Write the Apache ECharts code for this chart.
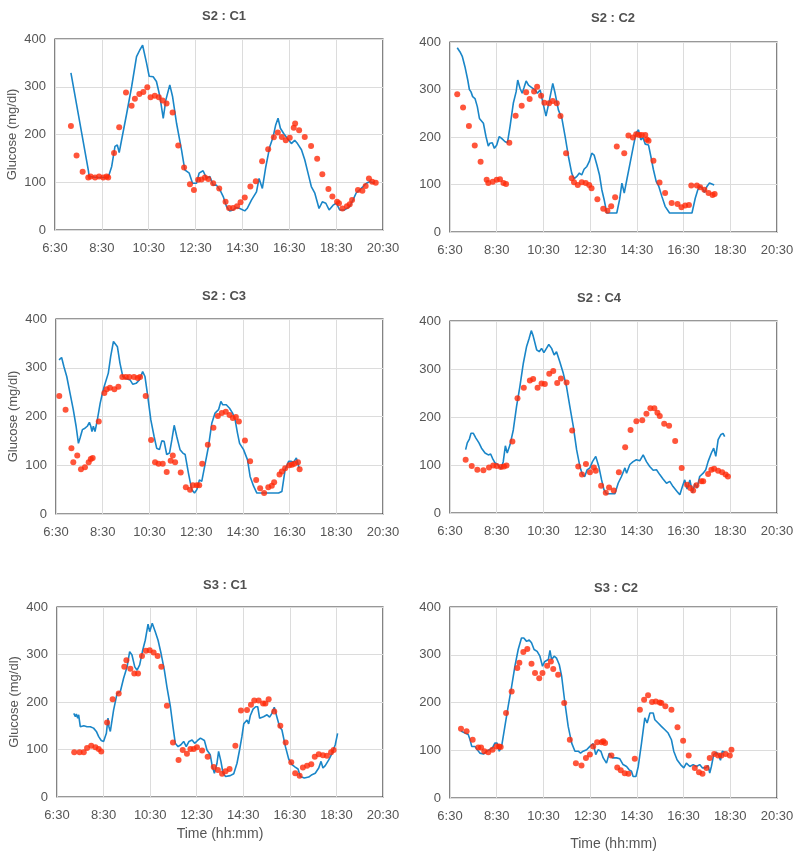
<!DOCTYPE html>
<html><head><meta charset="utf-8">
<script src="https://cdn.jsdelivr.net/npm/echarts@6/dist/echarts.min.js"></script>
<style>html,body{margin:0;padding:0;background:#fff}#c{width:800px;height:858px}</style>
</head><body><div id="c"></div>
<script>
// ---- data: [time in decimal hours, glucose mg/dl] ----
const panelTitles = ['S2 : C1', 'S2 : C2', 'S2 : C3', 'S2 : C4', 'S3 : C1', 'S3 : C2'];
const xTickLabels = ['6:30', '8:30', '10:30', '12:30', '14:30', '16:30', '18:30', '20:30'];
const yTicks = [0, 100, 200, 300, 400];

const s2c1Cgm = [[7.18,329],[7.92,126],[7.96,112],[8.3,110],[8.77,110],[8.92,133],[9.06,175],[9.16,178],[9.24,162],[9.34,188],[9.56,244],[9.77,300],[9.98,363],[10.12,377],[10.24,387],[10.29,384],[10.41,349],[10.52,322],[10.69,321],[10.83,311],[10.98,279],[11.12,234],[11.23,272],[11.40,304],[11.52,279],[11.69,223],[11.90,168],[12.04,126],[12.23,119],[12.37,98],[12.54,98],[12.65,119],[12.82,124],[12.97,108],[13.11,112],[13.25,94],[13.39,94],[13.54,84],[13.68,70],[13.82,49],[13.96,40],[14.10,42],[14.24,47],[14.39,45],[14.60,40],[14.70,45],[14.89,63],[15.10,80],[15.21,108],[15.35,87],[15.50,133],[15.67,175],[15.81,195],[15.92,220],[16.02,234],[16.12,213],[16.26,202],[16.41,192],[16.59,181],[16.73,188],[16.85,181],[17.02,168],[17.16,147],[17.30,119],[17.44,91],[17.59,77],[17.77,45],[17.91,59],[18.06,56],[18.20,42],[18.37,52],[18.51,56],[18.65,42],[18.86,42],[19.08,49],[19.22,63],[19.36,78],[19.50,84],[19.65,91],[19.79,98],[19.93,101],[20.14,98]];
const s2c1Ref = [[7.18,218],[7.42,156],[7.68,122],[7.92,110],[8.02,112],[8.21,110],[8.38,112],[8.56,110],[8.70,112],[8.77,110],[9.02,161],[9.24,215],[9.53,288],[9.77,260],[9.91,275],[10.10,285],[10.27,289],[10.44,299],[10.58,278],[10.76,281],[10.93,278],[11.09,271],[11.26,265],[11.52,246],[11.76,177],[12.01,131],[12.26,96],[12.43,84],[12.61,105],[12.75,106],[12.90,110],[13.04,107],[13.25,98],[13.51,87],[13.78,59],[13.93,46],[14.10,46],[14.27,50],[14.42,58],[14.60,68],[14.84,91],[15.07,102],[15.34,144],[15.60,169],[15.84,194],[16.01,204],[16.18,195],[16.35,188],[16.52,193],[16.69,214],[16.75,223],[16.92,209],[17.16,195],[17.43,176],[17.69,149],[17.91,117],[18.17,86],[18.34,70],[18.54,59],[18.62,56],[18.77,45],[18.96,50],[19.08,54],[19.18,63],[19.43,84],[19.62,82],[19.76,92],[19.90,108],[20.04,101],[20.19,99]];

const s2c2Cgm = [[6.81,388],[6.93,379],[7.03,369],[7.14,348],[7.26,320],[7.33,300],[7.40,295],[7.47,285],[7.57,281],[7.67,264],[7.76,239],[7.83,243],[7.93,229],[8.04,201],[8.14,181],[8.21,187],[8.31,188],[8.40,176],[8.50,183],[8.61,201],[8.71,197],[8.86,190],[8.96,188],[9.07,222],[9.21,271],[9.33,295],[9.40,320],[9.50,302],[9.59,292],[9.67,304],[9.76,318],[9.86,309],[10.00,304],[10.14,299],[10.24,292],[10.36,299],[10.47,274],[10.61,244],[10.76,278],[10.90,313],[11.00,292],[11.14,257],[11.29,239],[11.43,201],[11.57,159],[11.71,124],[11.81,112],[11.93,117],[12.04,124],[12.14,120],[12.24,132],[12.36,138],[12.46,148],[12.57,166],[12.67,162],[12.79,141],[12.90,120],[13.00,89],[13.10,68],[13.21,40],[13.64,40],[13.76,68],[13.86,103],[13.96,82],[14.07,110],[14.21,145],[14.36,183],[14.47,209],[14.57,215],[14.67,194],[14.76,199],[14.86,185],[15.00,183],[15.10,159],[15.21,131],[15.33,106],[15.44,96],[15.57,75],[15.71,54],[15.90,40],[16.86,40],[17.00,71],[17.11,89],[17.21,96],[17.31,92],[17.40,83],[17.50,96],[17.61,103],[17.71,101],[17.81,99]];
const s2c2Ref = [[6.81,290],[7.06,262],[7.31,223],[7.56,182],[7.81,148],[8.07,110],[8.14,103],[8.33,106],[8.50,110],[8.64,111],[8.79,103],[8.90,101],[9.04,188],[9.31,245],[9.57,266],[9.76,294],[9.91,280],[10.10,296],[10.23,306],[10.40,287],[10.54,272],[10.74,271],[10.90,276],[11.07,271],[11.23,244],[11.47,166],[11.71,113],[11.81,105],[11.97,99],[12.14,105],[12.31,103],[12.46,99],[12.56,92],[12.81,69],[13.06,49],[13.24,45],[13.40,54],[13.57,73],[13.64,180],[13.96,166],[14.14,203],[14.33,199],[14.47,206],[14.60,204],[14.71,204],[14.86,204],[14.93,195],[15.00,192],[15.21,150],[15.47,104],[15.71,82],[15.99,61],[16.24,59],[16.41,52],[16.57,56],[16.73,57],[16.83,98],[17.07,98],[17.21,94],[17.39,89],[17.57,82],[17.74,78],[17.83,80]];

const s2c3Cgm = [[6.63,316],[6.69,313],[6.74,321],[6.84,302],[6.96,282],[7.10,248],[7.24,214],[7.36,180],[7.46,145],[7.53,156],[7.63,173],[7.74,176],[7.84,180],[7.93,188],[7.99,180],[8.04,169],[8.10,180],[8.17,169],[8.27,193],[8.39,227],[8.47,244],[8.56,261],[8.64,265],[8.74,289],[8.84,323],[8.96,354],[9.04,358],[9.13,343],[9.24,309],[9.36,282],[9.50,278],[9.67,275],[9.79,266],[9.93,268],[10.07,275],[10.21,292],[10.31,282],[10.41,248],[10.56,193],[10.70,159],[10.81,135],[10.93,132],[11.03,150],[11.13,149],[11.24,122],[11.36,125],[11.46,152],[11.56,182],[11.67,159],[11.81,132],[11.93,125],[12.03,122],[12.17,84],[12.31,50],[12.43,43],[12.53,50],[12.64,70],[12.74,67],[12.89,104],[13.03,139],[13.17,186],[13.31,207],[13.46,214],[13.56,231],[13.64,224],[13.79,224],[13.93,217],[14.06,207],[14.17,193],[14.27,166],[14.36,145],[14.43,149],[14.53,132],[14.61,135],[14.70,111],[14.81,77],[14.96,57],[15.10,43],[16.03,43],[16.17,46],[16.31,91],[16.46,108],[16.56,108],[16.67,106],[16.79,115],[16.91,94]];
const s2c3Ref = [[6.64,242],[6.91,214],[7.16,135],[7.24,106],[7.41,120],[7.57,92],[7.74,96],[7.90,106],[7.99,113],[8.07,115],[8.33,190],[8.57,248],[8.67,256],[8.81,259],[9.00,256],[9.17,261],[9.34,281],[9.49,281],[9.64,281],[9.84,281],[10.00,279],[10.10,281],[10.34,242],[10.57,152],[10.74,106],[10.89,103],[11.07,103],[11.24,86],[11.41,109],[11.50,120],[11.60,106],[11.84,85],[12.06,55],[12.24,50],[12.36,59],[12.53,59],[12.63,59],[12.76,103],[13.00,142],[13.24,177],[13.43,201],[13.60,207],[13.77,210],[13.93,203],[14.07,197],[14.20,199],[14.33,190],[14.59,151],[14.81,108],[15.07,70],[15.24,53],[15.41,43],[15.59,55],[15.74,58],[15.84,65],[16.07,81],[16.17,87],[16.31,94],[16.49,100],[16.60,101],[16.70,103],[16.86,106],[16.93,92]];

const s2c4Cgm = [[7.17,132],[7.24,146],[7.33,154],[7.40,166],[7.50,166],[7.61,156],[7.74,146],[7.85,135],[8.00,125],[8.14,121],[8.24,123],[8.32,114],[8.42,105],[8.54,101],[8.68,92],[8.78,107],[8.87,140],[8.95,125],[9.07,142],[9.21,173],[9.35,222],[9.49,263],[9.64,312],[9.78,347],[9.89,364],[9.98,380],[10.06,369],[10.21,340],[10.32,336],[10.42,343],[10.52,334],[10.63,343],[10.73,351],[10.85,343],[10.96,329],[11.06,336],[11.20,315],[11.35,291],[11.49,263],[11.63,222],[11.78,180],[11.92,132],[12.06,97],[12.17,80],[12.27,76],[12.37,90],[12.49,94],[12.60,107],[12.74,118],[12.87,97],[12.99,69],[13.09,49],[13.20,40],[13.56,40],[13.70,62],[13.84,76],[13.99,94],[14.06,83],[14.20,101],[14.34,107],[14.48,111],[14.63,109],[14.77,121],[14.91,107],[15.05,97],[15.20,89],[15.34,90],[15.48,80],[15.62,71],[15.77,62],[15.91,66],[16.05,55],[16.22,45],[16.34,38],[16.45,55],[16.55,69],[16.65,50],[16.77,69],[16.88,42],[16.98,61],[17.08,52],[17.19,76],[17.34,83],[17.45,90],[17.55,107],[17.69,125],[17.79,135],[17.88,118],[17.98,153],[18.09,163],[18.19,166],[18.26,159]];
const s2c4Ref = [[7.17,111],[7.43,98],[7.67,90],[7.93,89],[8.17,95],[8.35,99],[8.50,98],[8.68,96],[8.81,97],[8.92,99],[9.17,149],[9.39,239],[9.66,261],[9.92,276],[10.06,279],[10.25,261],[10.42,270],[10.56,269],[10.75,290],[10.92,296],[11.09,271],[11.25,280],[11.49,272],[11.73,172],[11.99,97],[12.15,80],[12.32,102],[12.49,85],[12.66,95],[12.74,88],[12.97,57],[13.17,42],[13.31,53],[13.51,47],[13.73,85],[14.00,137],[14.23,173],[14.48,191],[14.73,193],[14.91,207],[15.08,218],[15.25,218],[15.38,209],[15.48,202],[15.67,186],[15.88,182],[16.14,150],[16.42,94],[16.65,59],[16.79,52],[16.91,47],[17.05,58],[17.26,66],[17.34,66],[17.55,81],[17.69,90],[17.81,92],[17.98,88],[18.15,85],[18.30,80],[18.40,76]];

const s3c1Cgm = [[7.22,176],[7.29,169],[7.33,175],[7.39,166],[7.43,173],[7.50,148],[7.65,150],[7.79,148],[7.93,148],[8.07,145],[8.19,138],[8.29,127],[8.40,119],[8.50,117],[8.62,134],[8.69,166],[8.73,148],[8.79,138],[8.93,183],[9.08,218],[9.22,222],[9.36,250],[9.51,274],[9.62,306],[9.72,299],[9.84,274],[9.94,267],[10.05,278],[10.18,309],[10.29,330],[10.41,364],[10.48,348],[10.59,366],[10.72,348],[10.84,330],[10.97,302],[11.11,267],[11.22,232],[11.37,190],[11.48,148],[11.58,113],[11.70,106],[11.82,110],[11.94,117],[12.05,106],[12.17,117],[12.30,120],[12.41,113],[12.54,119],[12.66,124],[12.83,119],[12.94,99],[13.08,89],[13.17,64],[13.26,50],[13.37,71],[13.44,96],[13.54,75],[13.63,50],[13.74,43],[13.94,45],[14.09,49],[14.23,71],[14.34,99],[14.44,127],[14.52,154],[14.66,162],[14.73,154],[14.80,171],[14.92,185],[15.03,190],[15.12,190],[15.20,166],[15.37,169],[15.52,173],[15.63,168],[15.73,176],[15.83,189],[15.94,169],[16.06,148],[16.16,141],[16.31,106],[16.45,80],[16.59,68],[16.73,63],[16.85,59],[16.95,43],[17.12,40],[17.31,42],[17.45,47],[17.59,50],[17.74,61],[17.84,75],[17.92,61],[18.02,66],[18.17,78],[18.31,92],[18.45,110],[18.55,134]];
const s3c1Ref = [[7.24,94],[7.47,94],[7.65,94],[7.79,103],[7.97,108],[8.15,105],[8.29,101],[8.40,96],[8.65,157],[8.89,206],[9.15,218],[9.39,274],[9.48,288],[9.65,270],[9.82,260],[9.98,260],[10.15,297],[10.32,308],[10.48,309],[10.65,304],[10.82,297],[10.98,274],[11.22,192],[11.48,115],[11.72,78],[11.90,99],[12.08,91],[12.23,101],[12.37,101],[12.51,105],[12.73,98],[12.97,85],[13.23,63],[13.41,57],[13.59,49],[13.74,54],[13.91,59],[14.16,108],[14.40,182],[14.66,183],[14.83,194],[14.97,203],[15.16,203],[15.35,197],[15.45,197],[15.59,206],[15.83,180],[16.09,150],[16.32,115],[16.56,73],[16.73,50],[16.92,45],[17.06,62],[17.24,66],[17.42,69],[17.57,85],[17.74,90],[17.92,88],[18.09,87],[18.27,94],[18.38,99]];

const s3c2Cgm = [[6.97,140],[7.04,136],[7.14,136],[7.28,133],[7.36,122],[7.43,108],[7.57,108],[7.67,101],[7.78,94],[7.93,92],[8.07,98],[8.18,101],[8.32,105],[8.42,115],[8.52,115],[8.61,98],[8.71,108],[8.85,150],[8.99,192],[9.14,234],[9.28,276],[9.42,311],[9.56,335],[9.66,335],[9.78,328],[9.89,331],[9.99,325],[10.10,311],[10.23,307],[10.35,297],[10.46,276],[10.56,286],[10.71,290],[10.78,309],[10.85,290],[10.96,297],[11.06,293],[11.18,279],[11.28,255],[11.42,199],[11.56,150],[11.71,115],[11.85,98],[11.99,98],[12.09,94],[12.20,98],[12.35,101],[12.49,108],[12.63,114],[12.74,91],[12.84,101],[12.96,98],[13.06,84],[13.20,73],[13.32,94],[13.46,84],[13.63,84],[13.77,82],[13.91,70],[14.06,66],[14.17,59],[14.27,56],[14.34,45],[14.46,45],[14.56,66],[14.70,115],[14.84,168],[14.94,157],[15.06,178],[15.20,178],[15.27,164],[15.41,157],[15.55,150],[15.70,143],[15.84,136],[15.98,122],[16.08,98],[16.22,80],[16.37,70],[16.51,63],[16.62,73],[16.77,66],[16.91,70],[17.05,66],[17.19,70],[17.31,63],[17.45,63],[17.55,68],[17.62,52],[17.69,66],[17.79,91],[17.91,96],[18.02,87],[18.08,79],[18.16,98],[18.26,96]];
const s3c2Ref = [[6.97,145],[7.21,140],[7.47,122],[7.71,106],[7.83,106],[7.97,98],[8.14,96],[8.32,101],[8.50,108],[8.60,108],[8.67,107],[8.90,178],[9.14,223],[9.38,272],[9.47,283],[9.64,306],[9.81,312],[9.99,281],[10.14,262],[10.32,251],[10.46,262],[10.66,277],[10.82,286],[10.92,270],[11.13,258],[11.39,199],[11.63,122],[11.89,73],[12.13,68],[12.32,84],[12.49,91],[12.63,108],[12.80,117],[12.99,117],[13.06,119],[13.14,115],[13.41,89],[13.66,64],[13.81,58],[13.98,52],[14.14,51],[14.41,82],[14.63,185],[14.81,206],[14.98,215],[15.15,201],[15.31,202],[15.48,200],[15.55,199],[15.72,192],[15.98,185],[16.24,148],[16.48,120],[16.72,89],[16.98,63],[17.16,54],[17.31,51],[17.48,63],[17.62,84],[17.81,92],[17.98,89],[18.12,89],[18.30,92],[18.48,89],[18.55,101]];

const cgmSets = [s2c1Cgm, s2c2Cgm, s2c3Cgm, s2c4Cgm, s3c1Cgm, s3c2Cgm];
const refSets = [s2c1Ref, s2c2Ref, s2c3Ref, s2c4Ref, s3c1Ref, s3c2Ref];

// ---- layout ----
const grids = [
  {left: 55, top: 39, width: 328, height: 191},
  {left: 450, top: 42, width: 327, height: 190},
  {left: 56, top: 319, width: 327, height: 195},
  {left: 450, top: 321, width: 327, height: 192},
  {left: 57, top: 607, width: 326, height: 190},
  {left: 450, top: 607, width: 327, height: 191}
];
const titlePos = [[219, 5], [608, 7], [219, 285], [594, 287], [220, 574], [611, 577]];
const FONT = '"Liberation Sans", Arial, Helvetica, sans-serif';
const TXT = '#555';

const chart = echarts.init(document.getElementById('c'), null, {renderer: 'canvas'});
const option = {
  backgroundColor: '#fff',
  animation: false,
  title: panelTitles.map((t, i) => ({
    text: t, left: titlePos[i][0], top: titlePos[i][1], textAlign: 'center',
    textStyle: {fontSize: 13, fontWeight: 'bold', color: '#505050', fontFamily: FONT}
  })),
  grid: grids.map(g => Object.assign({show: true, borderColor: '#333', borderWidth: 1.2, backgroundColor: '#fff', containLabel: false}, g)),
  xAxis: grids.map((g, i) => ({
    type: 'value', gridIndex: i, min: 6.5, max: 20.5, interval: 2,
    axisLine: {show: false}, axisTick: {show: false},
    splitLine: {show: true, lineStyle: {color: '#dcdcdc', width: 1}},
    axisLabel: {color: TXT, fontSize: 13, fontFamily: FONT, margin: 12,
      formatter: v => xTickLabels[Math.round((v - 6.5) / 2)]},
    name: i >= 4 ? 'Time (hh:mm)' : '', nameLocation: 'middle', nameGap: i === 4 ? 30 : 39,
    nameTextStyle: {color: TXT, fontSize: 14, fontFamily: FONT}
  })),
  yAxis: grids.map((g, i) => ({
    type: 'value', gridIndex: i, min: yTicks[0], max: yTicks[yTicks.length - 1], interval: 100,
    axisLine: {show: false}, axisTick: {show: false},
    splitLine: {show: true, lineStyle: {color: '#dcdcdc', width: 1}},
    axisLabel: {color: TXT, fontSize: 13, fontFamily: FONT, margin: 9},
    name: i % 2 === 0 ? 'Glucose (mg/dl)' : '', nameLocation: 'middle', nameGap: 36, nameRotate: 90,
    nameTextStyle: {color: TXT, fontSize: 13, fontFamily: FONT}
  })),
  series: []
};
for (let i = 0; i < 6; i++) {
  option.series.push({
    type: 'line', xAxisIndex: i, yAxisIndex: i, data: cgmSets[i], showSymbol: false, symbol: 'none',
    lineStyle: {color: '#1a86c8', width: 1.6}, z: 2
  });
  option.series.push({
    type: 'scatter', xAxisIndex: i, yAxisIndex: i, data: refSets[i], symbol: 'circle', symbolSize: 6,
    itemStyle: {color: '#ff2a0a'}, z: 3
  });
}
chart.setOption(option);
</script>
</body></html>
